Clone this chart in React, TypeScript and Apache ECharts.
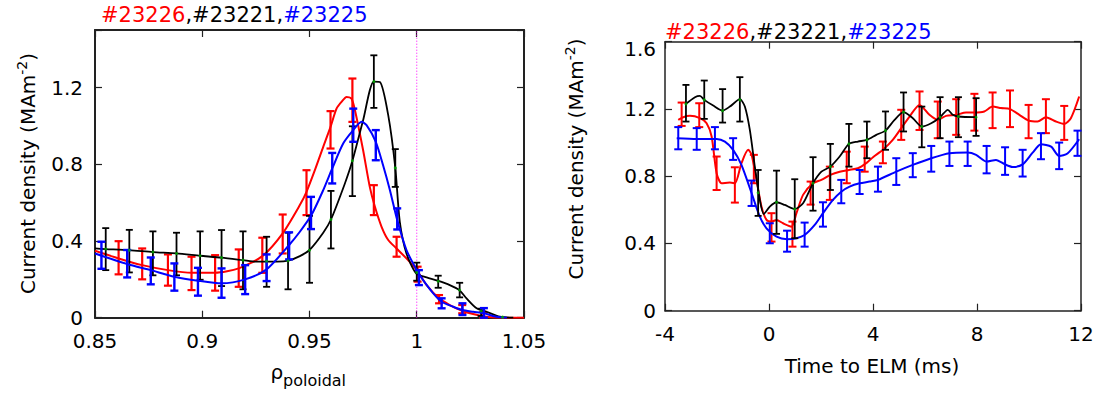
import { useEffect, useRef } from 'react';
import * as echarts from 'echarts';

const FONT = 'DejaVu Sans';
const RED = '#ff0000';
const BLACK = '#000000';
const BLUE = '#0000ff';
const DOT = '#00b000';

const SHOTS = ['#23226', '#23221', '#23225'];
const Y_NAME = 'Current density (MAm';
const Y_SUP = '-2';
const LEFT_X_NAME = 'ρ';
const LEFT_X_SUB = 'poloidal';
const RIGHT_X_NAME = 'Time to ELM (ms)';

// ---------- left panel: profiles vs rho_poloidal ----------
const L_BLACK_ERR = [
  [0.855, 0.248, 0.467], [0.866, 0.236, 0.458], [0.877, 0.221, 0.45], [0.888, 0.221, 0.443],
  [0.899, 0.198, 0.45], [0.909, 0.165, 0.457], [0.919, 0.148, 0.45], [0.93, 0.161, 0.422],
  [0.94, 0.148, 0.443], [0.95, 0.182, 0.531], [0.96, 0.361, 0.661], [0.97, 0.634, 0.998],
  [0.98, 1.094, 1.368], [0.99, 0.682, 0.879], [1.0, 0.193, 0.287], [1.01, 0.156, 0.219],
  [1.02, 0.106, 0.182], [1.03, 0.009, 0.047],
];
const L_BLACK_DOTS = [
  [0.855, 0.358], [0.866, 0.352], [0.877, 0.342], [0.888, 0.335], [0.899, 0.323], [0.909, 0.313],
  [0.919, 0.3], [0.93, 0.295], [0.94, 0.297], [0.95, 0.352], [0.96, 0.512], [0.97, 0.818],
  [0.98, 1.231], [0.99, 0.781], [1.0, 0.236], [1.01, 0.19], [1.02, 0.144], [1.03, 0.035], [1.04, 0.003],
];
const L_BLACK_LINE = [
  [0.85, 0.361], [0.855, 0.358], [0.866, 0.352], [0.877, 0.342], [0.888, 0.335], [0.899, 0.323],
  [0.909, 0.313], [0.919, 0.3], [0.925, 0.292], [0.935, 0.292], [0.94, 0.297], [0.9455, 0.321],
  [0.95, 0.353], [0.9564, 0.443], [0.96, 0.512], [0.9665, 0.7], [0.97, 0.818], [0.975, 1.03],
  [0.98, 1.231], [0.9828, 1.229], [0.9867, 1.056], [0.99, 0.781], [0.9921, 0.5], [0.9952, 0.335],
  [0.9997, 0.231], [1.0046, 0.21], [1.0097, 0.193], [1.0154, 0.17], [1.0198, 0.144], [1.0232, 0.101],
  [1.0279, 0.049], [1.0325, 0.031], [1.0387, 0.005], [1.045, 0.0],
];
const L_RED_ERR = [
  [0.861, 0.226, 0.399], [0.872, 0.2, 0.361], [0.884, 0.167, 0.33], [0.895, 0.144, 0.318],
  [0.906, 0.141, 0.326], [0.917, 0.161, 0.356], [0.928, 0.234, 0.417], [0.9375, 0.335, 0.538],
  [0.9486, 0.535, 0.769], [0.9598, 0.882, 1.077], [0.97, 1.021, 1.247], [0.98, 0.535, 0.691],
  [0.9906, 0.318, 0.422], [1.0004, 0.188, 0.266], [1.0104, 0.075, 0.118], [1.0212, 0.023, 0.066],
  [1.031, 0.0, 0.03],
];
const L_RED_LINE = [
  [0.85, 0.349], [0.861, 0.309], [0.872, 0.274], [0.884, 0.248], [0.895, 0.234], [0.906, 0.234],
  [0.917, 0.257], [0.928, 0.321], [0.9375, 0.44], [0.9455, 0.587], [0.9486, 0.656], [0.9525, 0.769],
  [0.9564, 0.891], [0.9598, 0.995], [0.9626, 1.09], [0.9649, 1.125], [0.9673, 1.151], [0.9696, 1.142],
  [0.9712, 1.082], [0.975, 0.873], [0.9781, 0.682], [0.9805, 0.578], [0.9836, 0.474], [0.9867, 0.405],
  [0.9906, 0.361], [0.9952, 0.309], [1.0, 0.248], [1.0046, 0.17], [1.0104, 0.101], [1.0154, 0.066],
  [1.0212, 0.036], [1.0263, 0.019], [1.0325, 0.005], [1.0387, 0.0], [1.05, 0.0],
];
const L_BLUE_ERR = [
  [0.853, 0.255, 0.396], [0.865, 0.21, 0.353], [0.876, 0.174, 0.314], [0.887, 0.141, 0.283],
  [0.898, 0.115, 0.26], [0.909, 0.104, 0.257], [0.92, 0.123, 0.274], [0.93, 0.191, 0.33],
  [0.9405, 0.304, 0.445], [0.9507, 0.462, 0.63], [0.9606, 0.7, 0.859], [0.9704, 0.917, 1.09],
  [0.9809, 0.821, 0.978], [0.9909, 0.46, 0.57], [1.001, 0.17, 0.248], [1.0116, 0.049, 0.101],
  [1.0213, 0.014, 0.075], [1.0313, 0.0, 0.05],
];
const L_BLUE_LINE = [
  [0.85, 0.335], [0.865, 0.28], [0.876, 0.248], [0.887, 0.214], [0.898, 0.193], [0.909, 0.179],
  [0.92, 0.2], [0.93, 0.252], [0.9405, 0.379], [0.9455, 0.448], [0.9509, 0.535], [0.9564, 0.665],
  [0.9606, 0.778], [0.9657, 0.908], [0.9704, 0.978], [0.9743, 1.021], [0.9766, 1.004], [0.9809, 0.917],
  [0.9843, 0.795], [0.9875, 0.665], [0.9909, 0.509], [0.9952, 0.353], [1.0, 0.248], [1.003, 0.196],
  [1.0077, 0.127], [1.0116, 0.083], [1.017, 0.057], [1.0213, 0.04], [1.0263, 0.031], [1.0313, 0.023],
  [1.0372, 0.005], [1.042, 0.0],
];
const SEPARATRIX = [[1, 0], [1, 1.5]];

// ---------- right panel: time to ELM ----------
const R_BLACK_ERR = [
  [-3.194, 1.125, 1.343], [-2.49, 1.141, 1.369], [-1.785, 1.119, 1.318], [-1.121, 1.125, 1.389],
  [-0.418, 0.564, 0.837], [0.29, 0.457, 0.833], [0.99, 0.431, 0.782], [1.693, 0.595, 0.913],
  [2.36, 0.718, 0.992], [3.075, 0.857, 1.111], [3.766, 0.907, 1.125], [4.48, 0.957, 1.185],
  [5.175, 1.066, 1.298], [5.877, 0.972, 1.214], [6.58, 1.026, 1.27], [7.286, 1.032, 1.27],
  [7.965, 1.04, 1.264],
];
const R_BLACK_DOTS = [
  [-3.194, 1.23], [-2.49, 1.254], [-1.785, 1.19], [-1.121, 1.254], [-0.418, 0.702], [0.29, 0.645],
  [0.99, 0.605], [1.693, 0.758], [2.36, 0.857], [3.075, 0.992], [3.766, 1.016], [4.48, 1.071],
  [5.175, 1.181], [5.877, 1.095], [6.58, 1.151], [7.286, 1.155], [7.965, 1.151],
];
const R_BLACK_LINE = [
  [-3.194, 1.23], [-2.848, 1.27], [-2.656, 1.278], [-2.49, 1.254], [-2.146, 1.22], [-1.785, 1.19],
  [-1.505, 1.214], [-1.121, 1.258], [-0.929, 1.214], [-0.737, 1.075], [-0.545, 0.857], [-0.353, 0.659],
  [-0.2, 0.575], [0.031, 0.619], [0.29, 0.645], [0.607, 0.629], [0.99, 0.605], [1.31, 0.639],
  [1.693, 0.758], [2.015, 0.827], [2.36, 0.857], [2.718, 0.917], [3.075, 0.992], [3.42, 1.006],
  [3.766, 1.016], [4.127, 1.046], [4.48, 1.071], [4.829, 1.135], [5.175, 1.181], [5.532, 1.145],
  [5.877, 1.095], [6.238, 1.115], [6.58, 1.151], [6.876, 1.195], [7.07, 1.165], [7.286, 1.155],
  [7.965, 1.151],
];
const R_RED_ERR = [
  [-3.36, 1.099, 1.238], [-2.683, 1.092, 1.234], [-2.015, 0.718, 0.917], [-1.313, 0.643, 0.853],
  [-0.583, 0.758, 0.927], [0.096, 0.411, 0.58], [0.902, 0.381, 0.53], [1.6, 0.631, 0.768],
  [2.34, 0.659, 0.857], [2.99, 0.758, 0.946], [3.68, 0.827, 0.976], [4.38, 0.877, 1.006],
  [5.086, 1.016, 1.195], [5.79, 1.075, 1.304], [6.49, 1.026, 1.244], [7.2, 1.046, 1.258],
  [7.9, 1.071, 1.29], [8.6, 1.086, 1.298], [9.27, 1.092, 1.31], [9.985, 1.026, 1.224],
  [10.65, 1.056, 1.258], [11.355, 1.016, 1.218],
];
const R_RED_LINE = [
  [-3.49, 1.135], [-3.3, 1.151], [-3.04, 1.159], [-2.656, 1.145], [-2.4, 1.115], [-2.207, 1.036],
  [-2.015, 0.818], [-1.823, 0.758], [-1.505, 0.762], [-1.313, 0.758], [-1.06, 0.877], [-0.8, 0.957],
  [-0.67, 0.927], [-0.48, 0.778], [-0.288, 0.619], [-0.096, 0.54], [0.096, 0.53], [0.29, 0.54],
  [0.54, 0.52], [0.864, 0.5], [1.056, 0.58], [1.31, 0.689], [1.693, 0.758], [2.015, 0.778],
  [2.36, 0.808], [2.718, 0.827], [3.075, 0.837], [3.42, 0.847], [3.766, 0.881], [4.0, 0.913],
  [4.38, 0.957], [4.76, 1.016], [5.086, 1.086], [5.405, 1.155], [5.79, 1.224], [6.17, 1.165],
  [6.49, 1.135], [6.81, 1.159], [7.2, 1.165], [7.58, 1.179], [7.9, 1.179], [8.28, 1.185],
  [8.6, 1.214], [8.925, 1.205], [9.27, 1.199], [9.63, 1.165], [9.985, 1.131], [10.33, 1.125],
  [10.65, 1.151], [11.04, 1.125], [11.355, 1.111], [11.61, 1.145], [11.93, 1.274],
];
const R_BLUE_ERR = [
  [-3.49, 0.96, 1.092], [-2.78, 0.957, 1.086], [-2.08, 0.96, 1.092], [-1.38, 0.897, 1.026],
  [-0.67, 0.623, 0.774], [0.03, 0.401, 0.52], [0.695, 0.351, 0.476], [1.37, 0.381, 0.524],
  [2.075, 0.5, 0.645], [2.78, 0.639, 0.778], [3.486, 0.694, 0.837], [4.19, 0.708, 0.857],
  [4.896, 0.748, 0.907], [5.53, 0.794, 0.937], [6.24, 0.827, 0.98], [6.94, 0.861, 1.006],
  [7.64, 0.861, 1.006], [8.37, 0.817, 0.98], [9.08, 0.808, 0.972], [9.755, 0.798, 0.957],
  [10.46, 0.901, 1.056], [11.16, 0.842, 1.0], [11.866, 0.921, 1.071],
];
const R_BLUE_LINE = [
  [-3.55, 1.026], [-2.78, 1.022], [-2.015, 1.022], [-1.697, 1.006], [-1.38, 0.957], [-1.06, 0.867],
  [-0.67, 0.699], [-0.353, 0.56], [-0.096, 0.49], [0.29, 0.44], [0.695, 0.425], [1.056, 0.431],
  [1.37, 0.45], [1.758, 0.51], [2.075, 0.58], [2.46, 0.659], [2.78, 0.708], [3.1, 0.738],
  [3.486, 0.758], [3.87, 0.768], [4.19, 0.778], [4.896, 0.827], [5.53, 0.867], [6.24, 0.907],
  [6.94, 0.937], [7.64, 0.941], [7.965, 0.927], [8.37, 0.887], [8.73, 0.897], [9.08, 0.87],
  [9.37, 0.855], [9.755, 0.87], [10.14, 0.94], [10.46, 0.99], [10.85, 0.976], [11.16, 0.92],
  [11.48, 0.935], [11.93, 1.02],
];

function errSeries(data: number[][], color: string, idx: number, cap: number, lw: number, z: number) {
  return {
    type: 'custom',
    xAxisIndex: idx * 2,
    yAxisIndex: idx * 2,
    data,
    encode: { x: 0, y: [1, 2] },
    z,
    silent: true,
    renderItem: (_p: any, api: any) => {
      const x = api.value(0);
      const a = api.coord([x, api.value(1)]);
      const b = api.coord([x, api.value(2)]);
      const h = cap / 2;
      const st = { stroke: color, lineWidth: lw };
      return {
        type: 'group',
        children: [
          { type: 'line', shape: { x1: a[0], y1: a[1], x2: b[0], y2: b[1] }, style: st },
          { type: 'line', shape: { x1: a[0] - h, y1: a[1], x2: a[0] + h, y2: a[1] }, style: st },
          { type: 'line', shape: { x1: b[0] - h, y1: b[1], x2: b[0] + h, y2: b[1] }, style: st },
        ],
      };
    },
  };
}

function lineSeries(data: number[][], color: string, idx: number, lw: number, z: number) {
  return {
    type: 'line',
    xAxisIndex: idx * 2,
    yAxisIndex: idx * 2,
    data,
    smooth: 0.25,
    symbol: 'none',
    lineStyle: { color, width: lw },
    z,
    silent: true,
  };
}

function dotSeries(data: number[][], idx: number) {
  return {
    type: 'scatter',
    xAxisIndex: idx * 2,
    yAxisIndex: idx * 2,
    data,
    symbolSize: 3,
    itemStyle: { color: DOT },
    z: 10,
    silent: true,
  };
}

function axis(
  grid: number,
  position: string,
  min: number,
  max: number,
  interval: number,
  showLabel: boolean,
  margin: number,
  lineW: number,
  fmt?: (v: number) => string,
  rich?: any
) {
  return {
    type: 'value',
    gridIndex: grid,
    position,
    min,
    max,
    interval,
    axisLine: { show: true, onZero: false, lineStyle: { color: '#222', width: lineW } },
    axisTick: { show: true, inside: true, length: 7, lineStyle: { color: '#222', width: 1.2 } },
    axisLabel: {
      show: showLabel,
      margin,
      fontSize: 20,
      fontFamily: FONT,
      color: '#000',
      formatter: fmt,
      rich,
      showMinLabel: true,
      showMaxLabel: true,
    },
    splitLine: { show: false },
  };
}

function titleOf(left: number, top: number) {
  const base = { fontSize: 21, fontFamily: FONT, lineHeight: 24, fontWeight: 'normal' };
  return {
    text: `{r|${SHOTS[0]}}{k|,${SHOTS[1]},}{b|${SHOTS[2]}}`,
    left,
    top,
    padding: 0,
    textStyle: {
      ...base,
      rich: {
        r: { ...base, color: RED },
        k: { ...base, color: BLACK },
        b: { ...base, color: BLUE },
      },
    },
  };
}

function yName(x: number, y: number) {
  const m = { fontSize: 20, fontFamily: FONT, fill: '#000', color: '#000' };
  return {
    type: 'text',
    x,
    y,
    rotation: Math.PI / 2,
    silent: true,
    style: {
      text: `{m|${Y_NAME}}{s|${Y_SUP}}{m|)}`,
      align: 'center',
      verticalAlign: 'middle',
      textAlign: 'center',
      textVerticalAlign: 'middle',
      font: `20px "${FONT}"`,
      fill: '#000',
      rich: {
        m: m,
        s: { fontSize: 14, fontFamily: FONT, fill: '#000', color: '#000', padding: [0, 0, 12, 0] },
      },
    },
  };
}

function plainText(text: string, x: number, y: number, size: number, align: string) {
  return {
    type: 'text',
    x,
    y,
    silent: true,
    style: {
      text,
      font: `${size}px "${FONT}"`,
      fill: '#000',
      align,
      textAlign: align,
      verticalAlign: 'middle',
      textVerticalAlign: 'middle',
    },
  };
}

export default function App() {
  const ref = useRef<HTMLDivElement>(null);
  useEffect(() => {
    if (!ref.current) return;
    const chart = echarts.init(ref.current, undefined, { renderer: 'svg' });
    const leftFmt = (v: number) => (v > 1.45 ? '' : String(Math.round(v * 100) / 100));
    const rightFmt = (v: number) => {
      const s = String(Math.round(v * 100) / 100);
      return v > 1.55 ? `{t|${s}}` : s;
    };
    const option: any = {
      animation: false,
      backgroundColor: '#fff',
      title: [titleOf(101, 3), titleOf(665, 19.5)],
      grid: [
        { left: 95, top: 30, width: 429, height: 287.7, outerBoundsMode: 'none', containLabel: false },
        { left: 665, top: 41.7, width: 416, height: 269, outerBoundsMode: 'none', containLabel: false },
      ],
      xAxis: [
        axis(0, 'bottom', 0.85, 1.05, 0.05, true, 13, 2),
        axis(0, 'top', 0.85, 1.05, 0.05, false, 13, 2),
        axis(1, 'bottom', -4, 12, 4, true, 13, 1.5),
        axis(1, 'top', -4, 12, 4, false, 13, 1.5),
      ],
      yAxis: [
        axis(0, 'left', 0, 1.5, 0.4, true, 12, 2, leftFmt),
        axis(0, 'right', 0, 1.5, 0.4, false, 12, 2),
        axis(1, 'left', 0, 1.6, 0.4, true, 9, 1.5, rightFmt, {
          t: { fontSize: 20, fontFamily: FONT, color: '#000', padding: [14, 0, 0, 0] },
        }),
        axis(1, 'right', 0, 1.6, 0.4, false, 9, 1.5),
      ],
      series: [
        {
          type: 'line',
          xAxisIndex: 0,
          yAxisIndex: 0,
          data: SEPARATRIX,
          symbol: 'none',
          lineStyle: { color: '#ff00ff', width: 1, type: [1, 2] },
          z: 1,
          silent: true,
        },
        lineSeries(L_RED_LINE, RED, 0, 2, 3),
        errSeries(L_RED_ERR, RED, 0, 8, 2.2, 3),
        lineSeries(L_BLACK_LINE, BLACK, 0, 1.8, 4),
        errSeries(L_BLACK_ERR, BLACK, 0, 7, 1.8, 4),
        lineSeries(L_BLUE_LINE, BLUE, 0, 2, 5),
        errSeries(L_BLUE_ERR, BLUE, 0, 8, 2.4, 5),
        dotSeries(L_BLACK_DOTS, 0),

        lineSeries(R_RED_LINE, RED, 1, 2, 3),
        errSeries(R_RED_ERR, RED, 1, 8, 2, 3),
        lineSeries(R_BLUE_LINE, BLUE, 1, 2, 4),
        errSeries(R_BLUE_ERR, BLUE, 1, 8, 2, 4),
        lineSeries(R_BLACK_LINE, BLACK, 1, 1.8, 5),
        errSeries(R_BLACK_ERR, BLACK, 1, 7, 1.8, 5),
        dotSeries(R_BLACK_DOTS, 1),
      ],
      graphic: [
        yName(27.5, 173.5),
        yName(575.5, 159),
        plainText(LEFT_X_NAME, 270.5, 371.6, 20, 'left'),
        plainText(LEFT_X_SUB, 283, 380.5, 16, 'left'),
        plainText(RIGHT_X_NAME, 872, 366, 20, 'center'),
      ],
    };
    chart.setOption(option);
    return () => chart.dispose();
  }, []);
  return (
    <div
      ref={ref}
      style={{ position: 'absolute', left: 0, top: 0, width: 1100, height: 396, background: '#fff' }}
    />
  );
}
